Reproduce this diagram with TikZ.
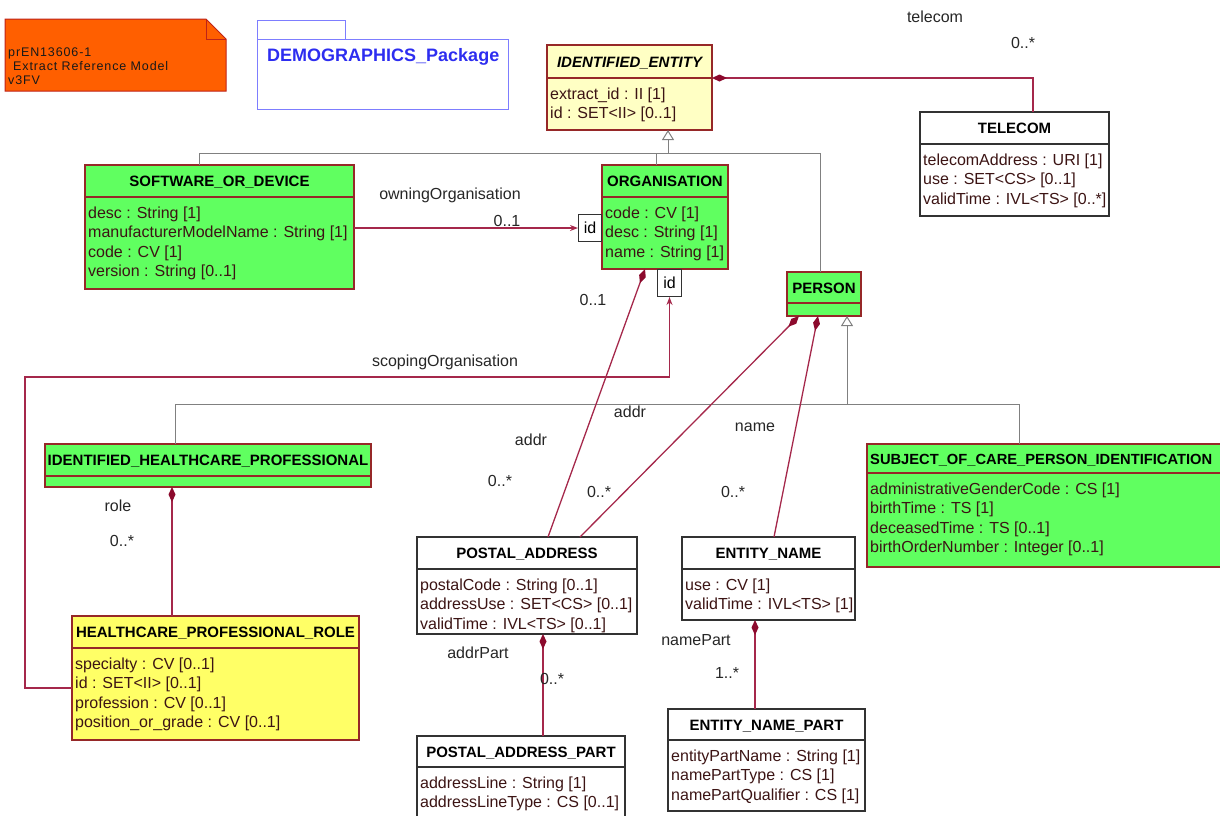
\documentclass[tikz,border=0pt]{standalone}
\usepackage{fontspec}
\setmainfont{Liberation Sans}
\usetikzlibrary{arrows.meta}
\definecolor{greenfill}{RGB}{96,255,96}
\definecolor{clsborder}{RGB}{150,40,40}
\definecolor{iefill}{RGB}{255,255,196}
\definecolor{yellowfill}{RGB}{255,255,102}
\definecolor{whiteborder}{RGB}{50,50,50}
\definecolor{assoccol}{RGB}{165,40,75}
\definecolor{diacol}{RGB}{140,10,45}
\definecolor{gencol}{RGB}{128,128,128}
\definecolor{notefill}{RGB}{255,95,0}
\definecolor{noteborder}{RGB}{190,35,25}
\definecolor{pkgborder}{RGB}{125,125,255}
\definecolor{pkgtext}{RGB}{45,45,240}
\definecolor{attrtext}{RGB}{60,20,20}
\newcommand\umlclass[9]{%
  \node[boxbase,#2,minimum width={#5pt-#3pt},minimum height={#6pt-#4pt}] (#1) at (#3,#4) {};
  \draw[#2,fill=none] (#1.west |- 0,#7) -- (#1.east |- 0,#7);
  \node[ttl] (#1-t) at ({(#3+#5)/2},{(#4+#7)/2+5.5}) {#8};
  \foreach \attrline [count=\i] in {#9} {\node[att] at ({#3+3},{#7+1.5+19.5*\i}) {\attrline};}
}
\begin{document}
\begin{tikzpicture}[x=1pt,y=-1pt,
  boxbase/.style={anchor=north west,inner sep=0pt,outer sep=0pt,line width=1.1pt},
  greenbox/.style={draw=clsborder,fill=greenfill,line width=1.1pt},
  yellowbox/.style={draw=clsborder,fill=yellowfill,line width=1.1pt},
  iebox/.style={draw=clsborder,fill=iefill,line width=1.1pt},
  whitebox/.style={draw=whiteborder,fill=white,line width=1.1pt},
  ttl/.style={font=\fontsize{15}{18}\selectfont\bfseries,text=black,inner sep=0pt,anchor=base},
  att/.style={font=\fontsize{16}{19}\selectfont,text=attrtext,inner sep=0pt,anchor=base west},
  lbl/.style={font=\fontsize{16}{19}\selectfont,text=black!85,inner sep=0pt},
  qual/.style={draw=whiteborder,fill=white,line width=1pt,font=\fontsize{16}{19}\selectfont,inner sep=0pt,minimum width=23pt,minimum height=27pt},
  assoc/.style={draw=assoccol,line width=1.3pt},
  assocd/.style={assoc,{Diamond[length=15pt,width=7pt,color=diacol,fill=diacol]}-},
  assoca/.style={assoc,-{Stealth[length=8pt,width=6pt,color=assoccol]}},
  genl/.style={draw=gencol,line width=1pt},
  gent/.style={genl,{Triangle[open,length=10pt,width=12pt,fill=white]}-}
]
\useasboundingbox (0,0) rectangle (1220,815);
\clip (0,0) rectangle (1220,815);

% note
\draw[fill=notefill,draw=noteborder,line width=1pt] (5,19) -- (206,19) -- (226,39) -- (226,91) -- (5,91) -- cycle;
\draw[draw=noteborder,line width=1pt] (206,19) -- (206,39) -- (226,39);
\begin{scope}[every node/.style={font=\fontsize{12.5}{14}\selectfont\addfontfeature{LetterSpace=7},text=black!90,inner sep=0pt,anchor=base west}]
\node (n1) at (8,56.5) {prEN13606-1};
\node (n2) at (13,70.5) {Extract Reference Model};
\node (n3) at (8,84.5) {v3FV};
\end{scope}

% package
\draw[draw=pkgborder,line width=1pt] (257,39) rectangle (508,109);
\draw[draw=pkgborder,line width=1pt] (257,39) -- (257,20) -- (345,20) -- (345,39);
\node[font=\fontsize{18}{21}\selectfont\bfseries,text=pkgtext,inner sep=0pt,anchor=base west] (pkg) at (267,61.5) {DEMOGRAPHICS\_Package};

% classes
\umlclass{ie}{iebox}{547}{45}{712}{130}{78}{\itshape IDENTIFIED\_ENTITY}{extract\_id : II [1],id : SET<II> [0..1]}
\umlclass{telecom}{whitebox}{920}{112}{1109}{216}{144}{TELECOM}{telecomAddress : URI [1],use : SET<CS> [0..1],validTime : IVL<TS> [0..*]}
\umlclass{sod}{greenbox}{85}{165}{354}{289}{197}{SOFTWARE\_OR\_DEVICE}{desc : String [1],manufacturerModelName : String [1],code : CV [1],version : String [0..1]}
\umlclass{org}{greenbox}{602}{165}{728}{269}{197}{ORGANISATION}{code : CV [1],desc : String [1],name : String [1]}
\umlclass{person}{greenbox}{787}{272}{861}{316}{303}{PERSON}{}
\umlclass{ihp}{greenbox}{45}{444}{371}{487}{476}{IDENTIFIED\_HEALTHCARE\_PROFESSIONAL}{}
\umlclass{soc}{greenbox}{867}{444}{1240}{567}{473}{}{administrativeGenderCode : CS [1],birthTime : TS [1],deceasedTime : TS [0..1],birthOrderNumber : Integer [0..1]}
\node[ttl,anchor=base west,font=\fontsize{14.7}{18}\selectfont\bfseries] (soctitle) at (870,464) {SUBJECT\_OF\_CARE\_PERSON\_IDENTIFICATION};
\umlclass{role}{yellowbox}{72}{616}{359}{740}{648}{HEALTHCARE\_PROFESSIONAL\_ROLE}{specialty : CV [0..1],id : SET<II> [0..1],profession : CV [0..1],position\_or\_grade : CV [0..1]}
\umlclass{pa}{whitebox}{417}{537}{637}{634}{569}{POSTAL\_ADDRESS}{postalCode : String [0..1],addressUse : SET<CS> [0..1],validTime : IVL<TS> [0..1]}
\umlclass{en}{whitebox}{682}{537}{855}{620}{569}{ENTITY\_NAME}{use : CV [1],validTime : IVL<TS> [1]}
\umlclass{pap}{whitebox}{417}{736}{625}{830}{767}{POSTAL\_ADDRESS\_PART}{addressLine : String [1],addressLineType : CS [0..1]}
\umlclass{enp}{whitebox}{668}{709}{865}{811}{740}{ENTITY\_NAME\_PART}{entityPartName : String [1],namePartType : CS [1],namePartQualifier : CS [1]}

% qualifiers
\node[qual,anchor=north east] (qid1) at (org.west |- 0,214) {id};
\node[qual,anchor=north west,minimum width=24pt] (qid2) at (657,269) {id};

% generalisations
\coordinate (g1) at (668,153);
\draw[gent] (ie.south -| g1) -- (g1);
\draw[genl] (sod.north -| 199,0) -- (199,153) -- (820,153) -- (person.north -| 820,0);
\draw[genl] (org.north -| 656,0) -- (656,153);
\coordinate (g2) at (847,404);
\draw[gent] (person.south -| g2) -- (g2);
\draw[genl] (ihp.north -| 175,0) -- (175,404) -- (1019,404) -- (soc.north -| 1019,0);

% associations
\draw[assocd] (ie.east |- 0,78) -- (1033,78) -- (telecom.north -| 1033,0);
\draw[assoca] (sod.east |- qid1.west) -- (qid1.west);
\draw[assoca] (role.west |- 0,688) -- (25,688) -- (25,377) -- (qid2.south |- 0,377) -- (qid2.south);
\draw[assocd] (org.south -| 645,0) -- (pa.north -| 548,0);
\draw[assocd] (person.south -| 799,0) -- (pa.north -| 580,0);
\draw[assocd] (person.south -| 818,0) -- (en.north -| 774,0);
\draw[assocd] (ihp.south -| 172,0) -- (role.north -| 172,0);
\draw[assocd] (pa.south -| 543,0) -- (pap.north -| 543,0);
\draw[assocd] (en.south -| 755,0) -- (enp.north -| 755,0);

% labels
\node[lbl] (l1) at (935,17) {telecom};
\node[lbl] (l2) at (1023,43) {0..*};
\node[lbl] (l3) at (450,195) {owningOrganisation};
\node[lbl] (l4) at (507,221) {0..1};
\node[lbl] (l5) at (593,300) {0..1};
\node[lbl] (l6) at (445,362) {scopingOrganisation};
\node[lbl] (l7) at (531,440) {addr};
\node[lbl] (l8) at (500,481) {0..*};
\node[lbl] (l9) at (630,412) {addr};
\node[lbl] (l10) at (599,492) {0..*};
\node[lbl] (l11) at (755,427) {name};
\node[lbl] (l12) at (733,492) {0..*};
\node[lbl] (l13) at (118,506) {role};
\node[lbl] (l14) at (122,541) {0..*};
\node[lbl] (l15) at (478,653) {addrPart};
\node[lbl] (l16) at (552,679) {0..*};
\node[lbl] (l17) at (696,640) {namePart};
\node[lbl] (l18) at (727,673) {1..*};
\end{tikzpicture}
\end{document}
